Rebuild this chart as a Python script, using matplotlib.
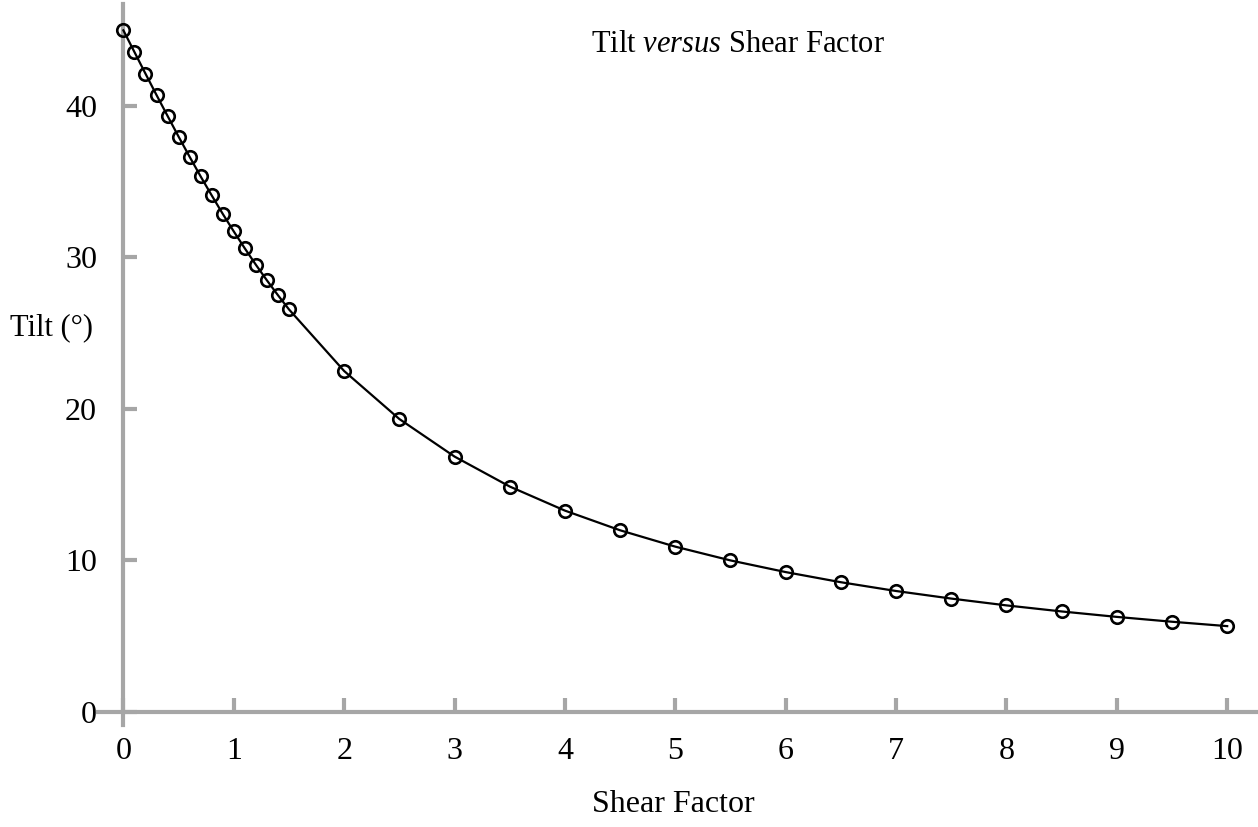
import matplotlib.pyplot as plt

# shear factor / tilt readings from the chart
shear = [0.0, 0.1, 0.2, 0.3, 0.4, 0.5, 0.6, 0.7, 0.8, 0.9, 1.0, 1.1, 1.2, 1.3, 1.4, 1.5,
         2.0, 2.5, 3.0, 3.5, 4.0, 4.5, 5.0, 5.5, 6.0, 6.5, 7.0, 7.5, 8.0, 8.5, 9.0, 9.5, 10.0]
tilt = [45.0, 43.57, 42.14, 40.73, 39.35, 37.98, 36.65, 35.35, 34.10, 32.88, 31.72,
        30.60, 29.52, 28.49, 27.51, 26.57,
        22.50, 19.33, 16.85, 14.87, 13.28, 11.98, 10.90, 9.99, 9.22, 8.55, 7.97,
        7.47, 7.02, 6.62, 6.26, 5.94, 5.65]
x_ticks = [0, 1, 2, 3, 4, 5, 6, 7, 8, 9, 10]
y_ticks = [0, 10, 20, 30, 40]

plt.rcParams['font.family'] = ['Liberation Serif', 'DejaVu Serif']
plt.rcParams['mathtext.fontset'] = 'custom'
plt.rcParams['mathtext.rm'] = 'Liberation Serif'
plt.rcParams['mathtext.it'] = 'Liberation Serif:italic'

W, H = 1258, 827
fig = plt.figure(figsize=(W / 100, H / 100), dpi=100)
ax = fig.add_axes([98 / W, (H - 725) / H, (1257 - 98) / W, (725 - 4) / H])

ax.plot(shear, tilt, color='black', lw=1.6, marker='o', ms=9,
        mfc='none', mec='black', mew=1.9, zorder=3)

ax.set_xlim(-0.23, 10.27)
ax.set_ylim(-0.88, 46.74)

grey = '#a6a6a6'
for s in ['top', 'right']:
    ax.spines[s].set_visible(False)
ax.spines['left'].set_position(('data', 0))
ax.spines['bottom'].set_position(('data', 0))
for s in ['left', 'bottom']:
    ax.spines[s].set_color(grey)
    ax.spines[s].set_linewidth(3)

ax.set_xticks(x_ticks)
ax.set_yticks(y_ticks)
ax.tick_params(axis='both', direction='in', length=10, width=3, color=grey,
               labelsize=23, labelcolor='black')
ax.tick_params(axis='x', pad=18)
ax.tick_params(axis='y', pad=19)
ax.set_xticklabels([str(t) for t in x_ticks])
ax.set_yticklabels([str(t) for t in y_ticks])

fig.text(738 / W, 1 - 45 / H, r'Tilt $\mathit{versus}$ Shear Factor',
         ha='center', va='center', fontsize=22)
fig.text(51 / W, 1 - 328 / H, 'Tilt (°)', ha='center', va='center', fontsize=22)
fig.text(673 / W, 1 - 805 / H, 'Shear Factor', ha='center', va='center', fontsize=23)

fig.savefig('out.png', dpi=100)
